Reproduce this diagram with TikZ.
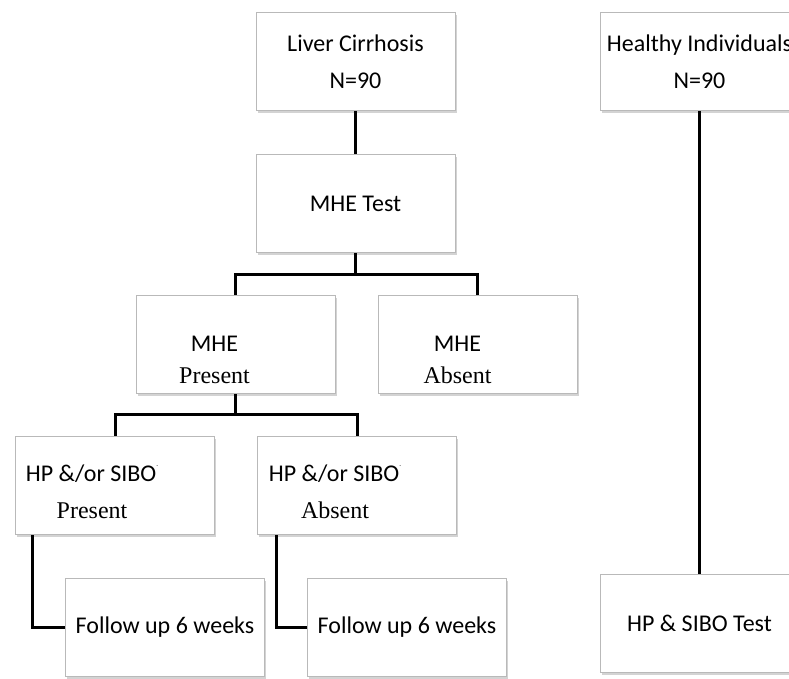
\documentclass[tikz,border=0pt]{standalone}
\usepackage{fontspec}
\setmainfont{Carlito}
\newfontfamily\serifpart{Liberation Serif}
\usetikzlibrary{positioning,shadows}

\begin{document}
\begin{tikzpicture}[x=1pt, y=-1pt, node distance=42pt, font=\fontsize{24}{37}\selectfont]

    \tikzstyle{box} = [rectangle, minimum width=199pt, minimum height=98pt, text centered, align=center, draw=gray!55, line width=1pt, fill=white, drop shadow={shadow xshift=1.5pt, shadow yshift=-2pt, opacity=0.35}]
    \tikzstyle{boxtext} = [align=center, font=\fontsize{24}{32}\selectfont]
    \tikzstyle{link} = [line width=3pt, black]

    \useasboundingbox (0,0) rectangle (789,678);

    \node (liver)      [box] at (355.5,61.5)                 {Liver Cirrhosis\\N=90};

    \node (healthy)    [box, right=144pt of liver]           {Healthy Individuals\\N=90};

    \node (mhetest)    [box, below=43pt of liver]            {MHE Test};

    \node (mhepresent) [box, below=of mhetest, xshift=-120pt,
                        label={[boxtext, xshift=-21pt, yshift=-15pt]center:MHE\\\serifpart Present}] {};

    \node (mheabsent)  [box, right=of mhepresent,
                        label={[boxtext, xshift=-20pt, yshift=-15pt]center:MHE\\\serifpart Absent}]  {};

    \node (hppresent)  [box, below=of mhepresent, xshift=-120.5pt,
                        label={[boxtext, font=\fontsize{24}{37}\selectfont, xshift=-23pt, yshift=-6pt]center:HP \&/or SIBO\raisebox{1.3ex}{\scriptsize.}\\\serifpart Present}] {};

    \node (hpabsent)   [box, right=of hppresent,
                        label={[boxtext, font=\fontsize{24}{37}\selectfont, xshift=-22pt, yshift=-6pt]center:HP \&/or SIBO\raisebox{1.3ex}{\scriptsize.}\\\serifpart Absent}] {};

    \node (followa)    [box, below=43pt of hppresent, xshift=50pt] {Follow up 6 weeks};

    \node (followb)    [box, right=of followa]               {Follow up 6 weeks};

    \node (hpsibo)     [box, below=463pt of healthy]         {HP \& SIBO Test};


    \draw[link] (liver) -- (mhetest);
    \draw[link] (mhetest.south) -- ++(0,21) -| (mhepresent.north);
    \draw[link] (mhetest.south) -- ++(0,21) -| (mheabsent.north);

    \draw[link] (mhepresent.south) -- ++(0,20) -| (hppresent.north);
    \draw[link] (mhepresent.south) -- ++(0,20) -| (hpabsent.north);

    \draw[link] ([xshift=17pt]hppresent.south west) |- (followa.west);
    \draw[link] ([xshift=19pt]hpabsent.south west)  |- (followb.west);

    \draw[link] (healthy) -- (hpsibo);
\end{tikzpicture}
\end{document}
